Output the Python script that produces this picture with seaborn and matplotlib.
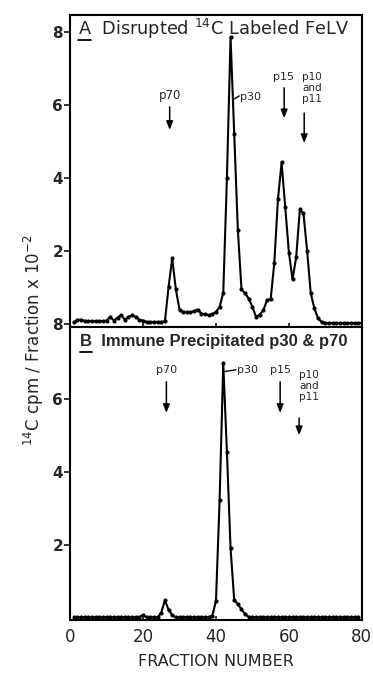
import matplotlib
matplotlib.use("Agg")
import matplotlib.pyplot as plt
import seaborn as sns
from matplotlib.lines import Line2D

# panel A: disrupted 14C labeled FeLV (cpm x 10^-2 per fraction)
fraction_a = list(range(1, 81))
cpm_a = [0.05, 0.12, 0.12, 0.09, 0.08, 0.08, 0.08, 0.08, 0.08, 0.10,
         0.20, 0.10, 0.18, 0.25, 0.12, 0.20, 0.24, 0.20, 0.12, 0.10,
         0.06, 0.06, 0.06, 0.06, 0.06, 0.08, 1.02, 1.80, 0.95, 0.40,
         0.34, 0.33, 0.32, 0.36, 0.40, 0.29, 0.27, 0.25, 0.27, 0.34,
         0.47, 0.86, 3.99, 7.86, 5.22, 2.58, 0.95, 0.84, 0.70, 0.47,
         0.20, 0.26, 0.38, 0.66, 0.68, 1.68, 3.42, 4.43, 3.20, 1.96,
         1.23, 1.83, 3.14, 3.03, 2.01, 0.84, 0.43, 0.16, 0.06, 0.03,
         0.03, 0.03, 0.03, 0.03, 0.03, 0.03, 0.03, 0.03, 0.03, 0.03]

# panel B: immune precipitated p30 & p70
fraction_b = list(range(1, 80))
cpm_b = [0.02, 0.02, 0.02, 0.02, 0.02, 0.02, 0.02, 0.02, 0.02, 0.02,
         0.02, 0.02, 0.02, 0.02, 0.02, 0.02, 0.02, 0.02, 0.02, 0.09,
         0.02, 0.02, 0.02, 0.02, 0.15, 0.49, 0.22, 0.08, 0.02, 0.02,
         0.02, 0.02, 0.02, 0.02, 0.02, 0.02, 0.02, 0.02, 0.06, 0.47,
         3.23, 6.98, 4.56, 1.91, 0.50, 0.38, 0.24, 0.10, 0.03, 0.02,
         0.02, 0.02, 0.02, 0.02, 0.02, 0.02, 0.02, 0.02, 0.02, 0.02,
         0.02, 0.02, 0.02, 0.02, 0.02, 0.02, 0.02, 0.02, 0.02, 0.02,
         0.02, 0.02, 0.02, 0.02, 0.02, 0.02, 0.02, 0.02, 0.02]

x_ticks = [0, 20, 40, 60, 80]
a_yticks = [0, 2, 4, 6, 8]
a_yticklabels = ["8", "2", "4", "6", "8"]
b_yticks = [2, 4, 6]

sns.set_style("ticks")
plt.rcParams['font.family'] = ['DejaVu Sans']

fig = plt.figure(figsize=(3.73, 6.73), dpi=100)
ax_a = fig.add_axes([0.188, 0.514, 0.782, 0.464])
ax_b = fig.add_axes([0.188, 0.079, 0.782, 0.435], sharex=ax_a)

line_kw = dict(color="black", marker="o", markersize=3.0, linewidth=1.5,
               markeredgewidth=0)
sns.lineplot(x=fraction_a, y=cpm_a, ax=ax_a, **line_kw)
sns.lineplot(x=fraction_b, y=cpm_b, ax=ax_b, **line_kw)

ax_a.set_xlim(0, 80)
ax_a.set_ylim(-0.08, 8.47)
ax_b.set_ylim(-0.05, 7.97)

for ax in (ax_a, ax_b):
    for s in ax.spines.values():
        s.set_linewidth(1.5)
        s.set_color("black")
        s.set_visible(True)
    ax.tick_params(axis="y", direction="out", length=4, width=1.3,
                   labelsize=11, pad=1)
    ax.tick_params(axis="x", direction="in", length=3, width=1.3,
                   labelsize=12, pad=6)

ax_a.set_yticks(a_yticks)
ax_a.set_yticklabels(a_yticklabels, fontweight="bold")
ax_b.set_yticks(b_yticks)
ax_b.set_yticklabels([str(t) for t in b_yticks], fontweight="bold")
ax_b.set_xticks(x_ticks)
ax_a.tick_params(axis="x", labelbottom=False)

ax_b.set_xlabel("FRACTION NUMBER", fontsize=11.5, labelpad=6)
ax_a.set_ylabel("")
ax_b.set_ylabel("")
fig.text(0.09, 0.495, r"$^{14}$C cpm / Fraction x 10$^{-2}$",
         rotation=90, ha="center", va="center", fontsize=12)

# panel titles with underlined letters
ax_a.text(0.027, 0.955, r"A  Disrupted $^{14}$C Labeled FeLV",
          transform=ax_a.transAxes, fontsize=12.8, va="center", ha="left")
ax_a.add_line(Line2D([0.027, 0.072], [0.92, 0.92], transform=ax_a.transAxes,
                     color="black", linewidth=1.3))
ax_b.text(0.035, 0.95, "B  Immune Precipitated p30 & p70",
          transform=ax_b.transAxes, fontsize=12, va="center", ha="left",
          family=["Liberation Sans", "DejaVu Sans"], fontweight="bold")
ax_b.add_line(Line2D([0.035, 0.074], [0.915, 0.915], transform=ax_b.transAxes,
                     color="black", linewidth=1.3))

arrow_kw = dict(arrowstyle="-|>,head_length=0.5,head_width=0.2",
                color="black", lw=1.1, shrinkA=0, shrinkB=0)

# panel A markers
ax_a.text(27.3, 6.27, "p70", ha="center", va="center", fontsize=8.5)
ax_a.annotate("", xy=(27.3, 5.32), xytext=(27.3, 5.95), arrowprops=arrow_kw)
ax_a.plot([44.7, 46.4], [6.15, 6.25], color="black", lw=1.0)
ax_a.text(46.6, 6.22, "p30", ha="left", va="center", fontsize=8)
ax_a.text(58.4, 6.77, "p15", ha="center", va="center", fontsize=8)
ax_a.annotate("", xy=(58.7, 5.64), xytext=(58.7, 6.47), arrowprops=arrow_kw)
ax_a.text(66.4, 6.47, "p10\nand\np11", ha="center", va="center", fontsize=7.5,
          linespacing=1.15)
ax_a.annotate("", xy=(64.2, 4.96), xytext=(64.2, 5.78), arrowprops=arrow_kw)

# panel B markers
ax_b.text(26.4, 6.79, "p70", ha="center", va="center", fontsize=8)
ax_b.annotate("", xy=(26.4, 5.62), xytext=(26.4, 6.47), arrowprops=arrow_kw)
ax_b.plot([42.2, 45.5], [6.75, 6.8], color="black", lw=1.0)
ax_b.text(45.7, 6.8, "p30", ha="left", va="center", fontsize=8)
ax_b.text(57.6, 6.79, "p15", ha="center", va="center", fontsize=8)
ax_b.annotate("", xy=(57.6, 5.62), xytext=(57.6, 6.47), arrowprops=arrow_kw)
ax_b.text(65.6, 6.36, "p10\nand\np11", ha="center", va="center", fontsize=7.5,
          linespacing=1.15)
ax_b.annotate("", xy=(62.8, 5.01), xytext=(62.8, 5.48), arrowprops=arrow_kw)

plt.savefig("out.png", dpi=100)
plt.close()
